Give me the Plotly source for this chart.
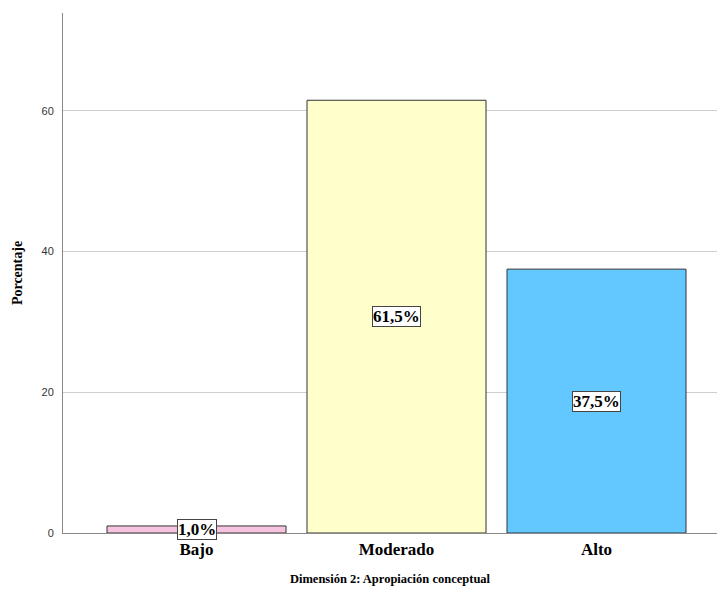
import plotly.graph_objects as go

categories = ["Bajo", "Moderado", "Alto"]
values = [1.0, 61.5, 37.5]
labels = ["1,0%", "61,5%", "37,5%"]
colors = ["#F7C4DF", "#FFFFCC", "#63C8FF"]
y_ticks = [0, 20, 40, 60]

serif = "Liberation Serif, Times New Roman, serif"

fig = go.Figure()
fig.add_trace(go.Bar(
    x=categories, y=values,
    marker=dict(color=colors, line=dict(color="#333333", width=1)),
    hoverinfo="skip",
))

for c, v, t in zip(categories, values, labels):
    fig.add_annotation(
        x=c, y=v / 2, xref="x", yref="y", text="<b>" + t + "</b>",
        showarrow=False, font=dict(family=serif, size=17, color="black"),
        bgcolor="white", bordercolor="#444444", borderwidth=1, borderpad=0,
    )

# title, mostly cut off at the top of the image
fig.add_annotation(
    x=(80 - 63) / 654, y=1.0, xref="paper", yref="paper", xanchor="left", yanchor="bottom",
    yshift=11, text="<b>Dimensión 2: Apropiación conceptual</b>", showarrow=False,
    font=dict(family=serif, size=30, color="black"),
)

fig.update_layout(
    width=717, height=591,
    margin=dict(l=63, r=0, t=13, b=58),
    paper_bgcolor="white", plot_bgcolor="white",
    showlegend=False, bargap=0.105,
    xaxis=dict(
        range=[-0.6675, 2.6025], showgrid=False, showline=True, linecolor="#888888",
        linewidth=1, ticks="outside", ticklen=1, tickcolor="rgba(0,0,0,0)",
        tickfont=dict(family=serif, size=17, color="black"),
        tickvals=categories, ticktext=["<b>" + c + "</b>" for c in categories],
        title=dict(text="<b>Dimensión 2: Apropiación conceptual</b>",
                   font=dict(family=serif, size=12.5, color="black")),
        automargin=False, fixedrange=True,
    ),
    yaxis=dict(
        range=[0, 73.9], tickvals=y_ticks, showgrid=True, gridcolor="#CFCFCF",
        gridwidth=1, showline=True, linecolor="#888888", linewidth=1, zeroline=False,
        tickfont=dict(family="Liberation Sans, Arial, sans-serif", size=11, color="#333333"),
        ticks="outside", ticklen=6, tickcolor="rgba(0,0,0,0)",
        title=dict(text="<b>Porcentaje</b>", font=dict(family=serif, size=14, color="black")),
        automargin=False, fixedrange=True,
    ),
)

fig.write_html("out.html", config={"displayModeBar": False},
               post_script="document.body.style.margin='0';")
